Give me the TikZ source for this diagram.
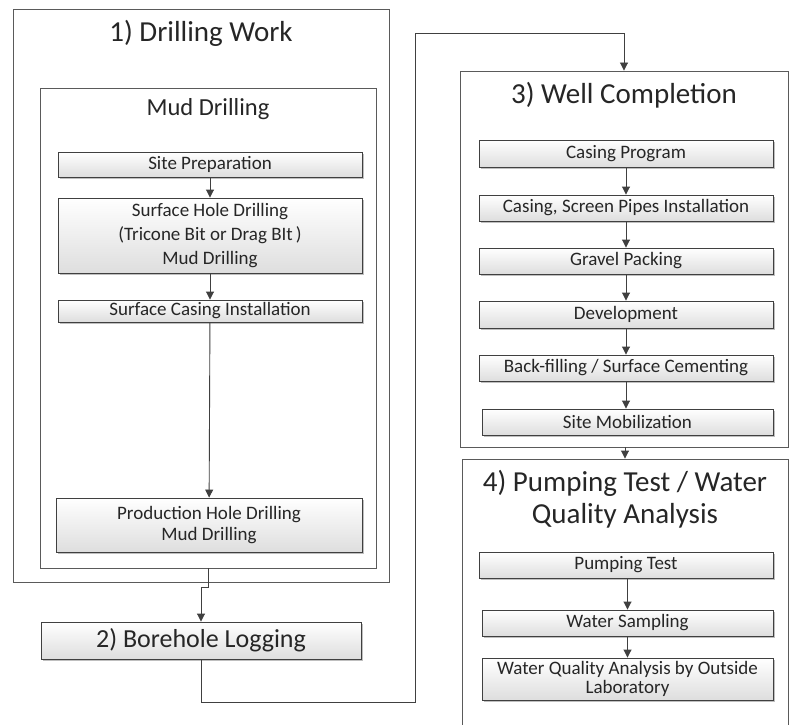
\documentclass[tikz,border=0pt]{standalone}
\usepackage{fontspec}
\setmainfont{Carlito}
\usetikzlibrary{arrows.meta,shadows}
\definecolor{frame}{HTML}{5A5A5A}
\definecolor{edge}{HTML}{404040}
\definecolor{ink}{HTML}{262626}
\tikzset{
  container/.style={draw=frame, line width=0.9pt, fill=white, inner sep=0pt},
  stepbox/.style={draw=edge, line width=0.9pt, top color=white, bottom color=black!13,
    drop shadow={shadow xshift=1.5pt, shadow yshift=-1.5pt, opacity=0.25, fill=black},
    inner sep=0pt, align=center, text=ink, font=\fontsize{19}{22}\selectfont},
  bigbox/.style={stepbox, font=\fontsize{26}{30}\selectfont},
  title/.style={text=ink, align=center, font=\fontsize{29}{32}\selectfont},
  subtitle/.style={text=ink, font=\fontsize{24.5}{28}\selectfont},
  flow/.style={draw=edge, line width=0.9pt, -{Triangle[length=8pt,width=8pt]}},
  link/.style={draw=edge, line width=0.9pt}
}
\begin{document}
\begin{tikzpicture}[x=1pt,y=-1pt]
\useasboundingbox (0,0) rectangle (793,725);
\clip (0,0) rectangle (793,725);
\fill[white] (0,0) rectangle (793,725);

% 1) Drilling work: outer frame and the mud drilling group
\node[container, minimum width=376pt, minimum height=573pt] (dw) at (201,295.5) {};
\node[title] (dwt) at (201,33) {1) Drilling Work};
\node[container, minimum width=336pt, minimum height=480pt] (md) at (208,328) {};
\node[subtitle] (mdt) at (208,109) {Mud Drilling};

\node[stepbox, minimum width=304pt, minimum height=25pt] (sp) at (210,164.5) {Site Preparation};
\node[stepbox, minimum width=304pt, minimum height=75pt, font=\fontsize{19}{24}\selectfont] (shd) at (210,235.5)
  {Surface Hole Drilling\\(Tricone Bit or Drag BIt\,)\\Mud Drilling};
\node[stepbox, minimum width=304pt, minimum height=22pt] (sci) at (210,311) {Surface Casing Installation};
\node[stepbox, minimum width=306pt, minimum height=54pt, font=\fontsize{19}{21.7}\selectfont] (phd) at (209,525)
  {Production Hole Drilling\\Mud Drilling};

\draw[flow] (sp) -- (shd);
\draw[flow] (shd) -- (sci);
\draw[flow] (sci) -- (phd);

% 2) Borehole logging
\node[bigbox, minimum width=320pt, minimum height=37pt] (bl) at (201,640.5) {2) Borehole Logging};
\coordinate (j1) at (208,587);
\coordinate (j2) at (201,587);
\draw[link] (md.south) -- (j1) -- (j2);
\draw[flow] (j2) -- (bl.north);

% 3) Well completion
\node[container, minimum width=328pt, minimum height=376pt] (wc) at (624,259) {};
\node[title] (wct) at (624,95) {3) Well Completion};
\coordinate (r1) at (415,702);
\coordinate (r2) at (415,33);
\draw[flow] (bl.south) |- (r1) -- (r2) -| (wc.north);

\node[stepbox, minimum width=294pt, minimum height=27pt] (cp) at (626,153.5) {Casing Program};
\node[stepbox, minimum width=294pt, minimum height=26pt] (csp) at (626,208) {Casing, Screen Pipes Installation};
\node[stepbox, minimum width=294pt, minimum height=26pt] (gp) at (626,261) {Gravel Packing};
\node[stepbox, minimum width=294pt, minimum height=27pt] (dev) at (626,314.5) {Development};
\node[stepbox, minimum width=294pt, minimum height=26pt] (bf) at (626,368) {Back-filling / Surface Cementing};
\node[stepbox, minimum width=291pt, minimum height=26pt] (sm) at (627.5,422) {Site Mobilization};

\draw[flow] (cp) -- (csp);
\draw[flow] (csp) -- (gp);
\draw[flow] (gp) -- (dev);
\draw[flow] (dev) -- (bf);
\draw[flow] (bf.south) -- (sm.north -| bf.south);

% 4) Pumping test / water quality analysis
\node[container, minimum width=326pt, minimum height=300pt] (pq) at (625,609) {};
\node[title] (pqt) at (625,499) {4) Pumping Test / Water\\Quality Analysis};
\draw[flow] (wc.south -| pq.north) -- (pq.north);

\node[stepbox, minimum width=294pt, minimum height=26pt] (pt) at (626,565) {Pumping Test};
\node[stepbox, minimum width=291pt, minimum height=26pt] (ws) at (627.5,623) {Water Sampling};
\node[stepbox, minimum width=291pt, minimum height=42pt, font=\fontsize{19}{18.5}\selectfont] (wq) at (627.5,679)
  {Water Quality Analysis by Outside\\Laboratory};

\draw[flow] (pt.south -| ws.north) -- (ws.north);
\draw[flow] (ws) -- (wq);
\end{tikzpicture}
\end{document}
